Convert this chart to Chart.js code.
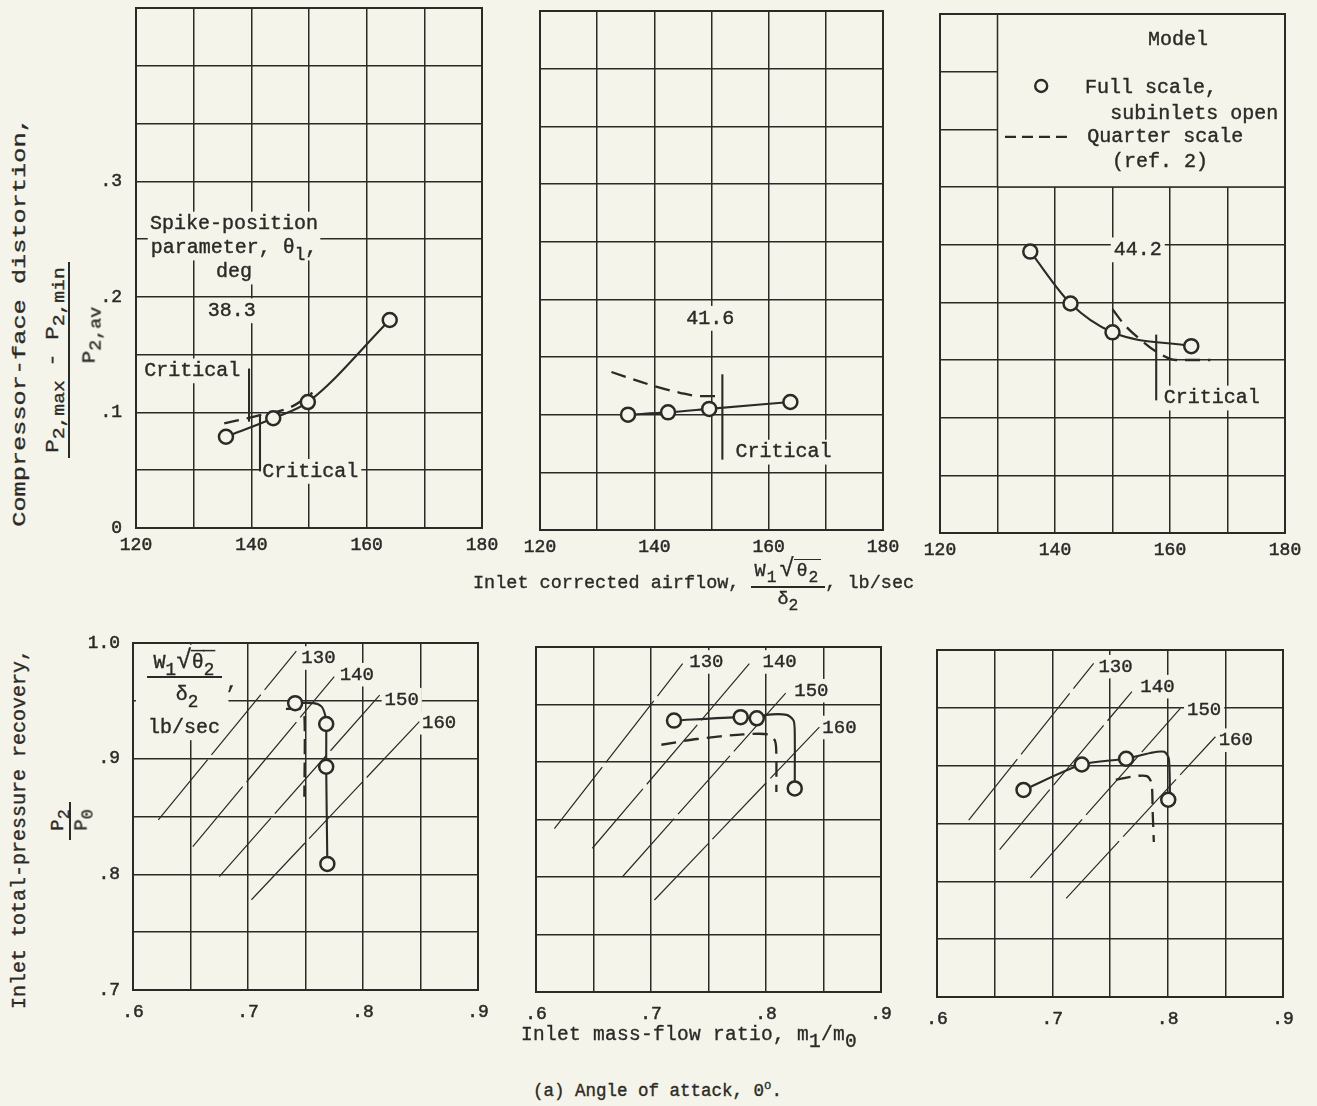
<!DOCTYPE html>
<html><head><meta charset="utf-8"><title>Compressor-face distortion and inlet recovery</title>
<script src="https://cdn.jsdelivr.net/npm/chart.js@4.4.1/dist/chart.umd.min.js"></script>
<style>
html,body{margin:0;padding:0;background:#f5f4ea;}
body{width:1317px;height:1106px;position:relative;overflow:hidden;font-family:"Liberation Mono","DejaVu Sans Mono",monospace;color:#2b2a27;}
#wrap canvas{position:absolute;}
.t{position:absolute;white-space:nowrap;line-height:1;z-index:5;-webkit-text-stroke:0.35px #2b2a27;}
.s{font-size:0.88em;position:relative;top:0.38em;}
.sf{position:relative;top:0.38em;}
.sup{font-size:0.7em;position:relative;top:-0.55em;}
.frac{display:inline-flex;flex-direction:column;align-items:center;}
.num{border-bottom:2px solid #2b2a27;padding:0 4px 4px 4px;letter-spacing:1px;}
.rad{font-size:1.35em;line-height:0.8;margin:0 -1px 0 2px;}
.den{padding-top:3px;}
.ov{border-top:1.6px solid #2b2a27;padding:1px 2px 0 2px;}
.bar{position:absolute;background:#2b2a27;z-index:5;}
</style></head>
<body>
<div id="wrap"></div>

<!-- top row axis titles -->
<div class="t" style="left:20px;top:322px;font-size:19px;transform:translate(-50%,-50%) rotate(-90deg) scaleX(1.33);">Compressor-face distortion,</div>
<div class="t" style="left:53px;top:360px;font-size:19px;transform:translate(-50%,-50%) rotate(-90deg) scaleX(1.18);">P<span class="s">2,max</span> - P<span class="s">2,min</span></div>
<div class="bar" style="left:68px;top:262px;width:2px;height:196px;"></div>
<div class="t" style="left:90px;top:335px;font-size:19px;transform:translate(-50%,-50%) rotate(-90deg) scaleX(1.1);">P<span class="s">2,av</span></div>

<div class="t" style="left:473px;top:560px;font-size:18.5px;display:flex;align-items:center;">
  <span>Inlet corrected airflow,&nbsp;</span>
  <span class="frac"><span class="num">W<span class="s">1</span><span class="rad">√</span><span class="ov">θ<span class="s">2</span></span></span><span class="den">δ<span class="s">2</span></span></span>
  <span>, lb/sec</span>
</div>

<!-- bottom row axis titles -->
<div class="t" style="left:20px;top:829px;font-size:20px;transform:translate(-50%,-50%) rotate(-90deg);">Inlet total-pressure recovery,</div>
<div class="t" style="left:58px;top:820px;font-size:19px;transform:translate(-50%,-50%) rotate(-90deg);">P<span class="s">2</span></div>
<div class="bar" style="left:69px;top:802px;width:2px;height:38px;"></div>
<div class="t" style="left:82px;top:820px;font-size:19px;transform:translate(-50%,-50%) rotate(-90deg);">P<span class="s">0</span></div>

<div class="t" style="left:521px;top:1026px;font-size:19.5px;letter-spacing:0.3px;">Inlet mass-flow ratio, m<span class="sf">1</span>/m<span class="sf">0</span></div>
<div class="t" style="left:533px;top:1083px;font-size:17.5px;">(a) Angle of attack, 0<span class="sup">o</span>.</div>

<script>
const INK = '#2b2a27';
const BG = '#f5f4ea';
const FONT = '"Liberation Mono","DejaVu Sans Mono",monospace';
Chart.defaults.font.family = FONT;
Chart.defaults.color = INK;

// ---------- axes: grid positions and tick labels ----------
const airflowGrid = [120, 130, 140, 150, 160, 170, 180];
const airflowLabelVals = [120, 140, 160, 180];
const airflowLabelText = ['120', '140', '160', '180'];
const distortionGrid = [0, 0.05, 0.10, 0.15, 0.20, 0.25, 0.30, 0.35, 0.40, 0.45];
const distortionLabelVals = [0, 0.1, 0.2, 0.3];
const distortionLabelText = ['0', '.1', '.2', '.3'];
const massFlowGrid = [0.60, 0.65, 0.70, 0.75, 0.80, 0.85, 0.90];
const massFlowLabelVals = [0.6, 0.7, 0.8, 0.9];
const massFlowLabelText = ['.6', '.7', '.8', '.9'];
const recoveryGrid = [0.70, 0.75, 0.80, 0.85, 0.90, 0.95, 1.00];
const recoveryLabelVals = [0.7, 0.8, 0.9, 1.0];
const recoveryLabelText = ['.7', '.8', '.9', '1.0'];

// ---------- spike-position parameter of each column ----------
const spikeParams = ['38.3', '41.6', '44.2'];

// ---------- top row: distortion vs corrected airflow ----------
const fullAirflowA = [135.6, 143.8, 149.8, 164.0];
const fullDistortionA = [0.079, 0.095, 0.109, 0.180];
const quarterAirflowA = [135.3, 141.0, 147.0, 150.6];
const quarterDistortionA = [0.0905, 0.097, 0.105, 0.117];
const criticalAirflowA = [139.6, 141.5];
const criticalLowA = [0.092, 0.049];
const criticalHighA = [0.138, 0.098];

const fullAirflowB = [135.4, 142.4, 149.6, 163.8];
const fullDistortionB = [0.100, 0.102, 0.105, 0.111];
const quarterAirflowB = [132.5, 139.2, 144.5, 148.0, 152.0];
const quarterDistortionB = [0.137, 0.126, 0.119, 0.116, 0.116];
const criticalAirflowB = [151.9];
const criticalLowB = [0.061];
const criticalHighB = [0.135];

const fullAirflowC = [135.7, 142.7, 150.0, 163.7];
const fullDistortionC = [0.244, 0.199, 0.174, 0.162];
const quarterAirflowC = [150.0, 152.0, 155.0, 158.0, 161.0, 167.0];
const quarterDistortionC = [0.194, 0.181, 0.167, 0.156, 0.150, 0.150];
const criticalAirflowC = [157.6];
const criticalLowC = [0.115];
const criticalHighC = [0.172];

// ---------- bottom row: recovery vs mass-flow ratio ----------
const fullMassA = [0.741, 0.768, 0.768, 0.769];
const fullRecoveryA = [0.948, 0.930, 0.893, 0.809];
const fairedMassA = [0.741, 0.757, 0.764, 0.767, 0.768, 0.768, 0.769];
const fairedRecoveryA = [0.948, 0.948, 0.945, 0.938, 0.930, 0.893, 0.809];
const quarterMassA = [0.733, 0.745, 0.749, 0.749];
const quarterRecoveryA = [0.943, 0.943, 0.938, 0.867];

const fullMassB = [0.720, 0.778, 0.792, 0.825];
const fullRecoveryB = [0.936, 0.939, 0.938, 0.877];
const fairedMassB = [0.720, 0.778, 0.792, 0.800, 0.818, 0.824, 0.825, 0.825];
const fairedRecoveryB = [0.936, 0.939, 0.938, 0.941, 0.941, 0.936, 0.925, 0.877];
const quarterMassB = [0.709, 0.740, 0.780, 0.802, 0.808, 0.809, 0.809];
const quarterRecoveryB = [0.915, 0.920, 0.924, 0.924, 0.918, 0.905, 0.874];

const fullMassC = [0.675, 0.7255, 0.764, 0.8005];
const fullRecoveryC = [0.879, 0.901, 0.906, 0.8705];
const fairedMassC = [0.675, 0.7255, 0.764, 0.785, 0.797, 0.801, 0.802];
const fairedRecoveryC = [0.879, 0.901, 0.906, 0.911, 0.912, 0.906, 0.876];
const quarterMassC = [0.755, 0.772, 0.782, 0.786, 0.787, 0.788];
const quarterRecoveryC = [0.888, 0.891, 0.891, 0.885, 0.860, 0.834];

// ---------- lines of constant corrected airflow (lb/sec) ----------
const airflowLineValues = ['130', '140', '150', '160'];
const lineStartMassA = [0.622, 0.652, 0.675, 0.703];
const lineStartRecA = [0.847, 0.824, 0.798, 0.778];
const lineEndMassA = [0.742, 0.775, 0.8145, 0.849];
const lineEndRecA = [0.993, 0.971, 0.955, 0.932];
const lineStartMassB = [0.616, 0.649, 0.675, 0.703];
const lineStartRecB = [0.842, 0.825, 0.800, 0.780];
const lineEndMassB = [0.7275, 0.7855, 0.819, 0.8464];
const lineEndRecB = [0.9855, 0.9855, 0.962, 0.9304];
const lineStartMassC = [0.6275, 0.6543, 0.681, 0.712];
const lineStartRecC = [0.853, 0.8275, 0.803, 0.7853];
const lineEndMassC = [0.7358, 0.769, 0.811, 0.8414];
const lineEndRecC = [0.9885, 0.964, 0.9495, 0.925];
const lineLabelMassA = [0.7464, 0.7797, 0.8188, 0.8513];
const lineLabelRecA = [0.987, 0.9726, 0.951, 0.931];
const lineLabelMassB = [0.7333, 0.797, 0.8246, 0.849];
const lineLabelRecB = [0.987, 0.987, 0.962, 0.930];
const lineLabelMassC = [0.740, 0.7763, 0.8168, 0.8442];
const lineLabelRecC = [0.9856, 0.9683, 0.948, 0.922];

// ---------- helpers ----------
const PAD = {l: 44, t: 14, r: 22, b: 34};
const pts = (xs, ys) => xs.map((x, i) => ({x: x, y: ys[i]}));
function circles(xs, ys) {
  return {data: pts(xs, ys), showLine: false, pointRadius: 7, pointHoverRadius: 7,
    pointBorderWidth: 2.5, pointBackgroundColor: BG, pointBorderColor: INK, order: 0};
}
function curve(xs, ys, mono, dash) {
  return {data: pts(xs, ys), showLine: true, borderColor: INK, borderWidth: dash ? 2.3 : 2.1,
    pointRadius: 0, tension: mono ? 0.4 : 0.25, cubicInterpolationMode: mono ? 'monotone' : 'default',
    borderDash: dash ? [15, 8] : [], fill: false, order: 2};
}
function seg(x0, y0, x1, y1, w, dash) {
  return {data: [{x: x0, y: y0}, {x: x1, y: y1}], showLine: true, borderColor: INK, borderWidth: w,
    pointRadius: 0, tension: 0, borderDash: dash || [], fill: false, order: 3};
}
function criticalSegs(xs, lows, highs) {
  return xs.map((x, i) => seg(x, lows[i], x, highs[i], 2.1));
}
function airflowLines(x0, y0, x1, y1) {
  return x0.map((x, i) => seg(x, y0[i], x1[i], y1[i], 1.2, [78, 6]));
}
function labeler(vals, texts) {
  return function (value) {
    for (let i = 0; i < vals.length; i++) if (Math.abs(vals[i] - value) < 1e-6) return texts[i];
    return '';
  };
}
function fontStr(size) { return size + 'px ' + FONT; }
function segSize(f, size) {
  if (f.indexOf('big') >= 0) return size * 1.3;
  return f.indexOf('sub') >= 0 ? size * 0.88 : size;
}
function richWidth(ctx, segs, size) {
  let w = 0;
  segs.forEach(s => { ctx.font = fontStr(segSize(s[1] || '', size)); w += ctx.measureText(s[0]).width; });
  return w;
}
function drawRich(ctx, segs, x, y, size, align, bg) {
  const w = richWidth(ctx, segs, size);
  let cx = align === 'center' ? x - w / 2 : (align === 'right' ? x - w : x);
  if (bg) { ctx.fillStyle = BG; ctx.fillRect(cx - 3, y - size * 0.62, w + 6, size * 1.24); }
  ctx.fillStyle = INK; ctx.strokeStyle = INK; ctx.textAlign = 'left'; ctx.textBaseline = 'middle';
  segs.forEach(s => {
    const f = s[1] || '';
    const sub = f.indexOf('sub') >= 0;
    const fs = segSize(f, size);
    ctx.font = fontStr(fs);
    const ty = y + (sub ? size * 0.36 : 0) + (f.indexOf('big') >= 0 ? -size * 0.08 : 0);
    ctx.lineWidth = 0.4;
    ctx.fillText(s[0], cx, ty);
    ctx.strokeText(s[0], cx, ty);
    const ww = ctx.measureText(s[0]).width;
    if (f.indexOf('over') >= 0) {
      ctx.lineWidth = 1.5; ctx.beginPath();
      ctx.moveTo(cx - 1, y - size * 0.62); ctx.lineTo(cx + ww + 1, y - size * 0.62); ctx.stroke();
    }
    cx += ww;
  });
}
function annoPlugin(spec) {
  return {
    id: 'anno',
    beforeDatasetsDraw(chart) {
      const ctx = chart.ctx, xs = chart.scales.x, ys = chart.scales.y, a = chart.chartArea;
      const X = v => xs.getPixelForValue(v), Y = v => ys.getPixelForValue(v);
      ctx.save();
      (spec.blanks || []).forEach(b => {
        ctx.fillStyle = BG;
        const x0 = X(b[0]), x1 = X(b[1]), y0 = Y(b[3]), y1 = Y(b[2]);
        ctx.fillRect(x0, y0, x1 - x0, y1 - y0);
      });
      ctx.strokeStyle = INK; ctx.lineWidth = 2;
      ctx.strokeRect(a.left, a.top, a.right - a.left, a.bottom - a.top);
      (spec.rules || []).forEach(r => {
        ctx.lineWidth = r[4] || 1.5; ctx.beginPath();
        ctx.moveTo(X(r[0]), Y(r[1])); ctx.lineTo(X(r[2]), Y(r[3])); ctx.stroke();
      });
      (spec.texts || []).forEach(t => {
        drawRich(ctx, t.segs, X(t.x), Y(t.y), t.size || 20, t.align || 'center', t.bg !== false);
      });
      if (spec.custom) spec.custom(ctx, X, Y);
      ctx.restore();
    }
  };
}
function panel(box, xAxis, yAxis, datasets, spec) {
  const W = box.R - box.L + PAD.l + PAD.r, H = box.B - box.T + PAD.t + PAD.b;
  const cv = document.createElement('canvas');
  cv.width = W; cv.height = H;
  cv.style.left = (box.L - PAD.l) + 'px'; cv.style.top = (box.T - PAD.t) + 'px';
  cv.style.width = W + 'px'; cv.style.height = H + 'px';
  document.getElementById('wrap').appendChild(cv);
  const grid = {color: INK, lineWidth: 1.5, drawTicks: false};
  const tickStyle = {font: {size: 18}, color: INK, textStrokeColor: INK, textStrokeWidth: 0.5};
  new Chart(cv.getContext('2d'), {
    type: 'line',
    data: {datasets: datasets},
    options: {
      responsive: false, animation: false, devicePixelRatio: 1, events: [],
      layout: {padding: {top: PAD.t, right: PAD.r, left: 0, bottom: 0}},
      plugins: {legend: {display: false}, tooltip: {enabled: false}},
      scales: {
        x: {type: 'linear', min: xAxis.grid[0], max: xAxis.grid[xAxis.grid.length - 1],
          afterBuildTicks: s => { s.ticks = xAxis.grid.map(v => ({value: v})); },
          ticks: Object.assign({callback: labeler(xAxis.vals, xAxis.text),
            padding: xAxis.pad, maxRotation: 0, minRotation: 0, autoSkip: false}, tickStyle),
          grid: grid, border: {display: true, color: INK, width: 2},
          afterFit: s => { s.height = PAD.b; s.paddingLeft = 0; s.paddingRight = 0; s.paddingTop = 0; s.paddingBottom = 0; }},
        y: {type: 'linear', min: yAxis.grid[0], max: yAxis.grid[yAxis.grid.length - 1],
          afterBuildTicks: s => { s.ticks = yAxis.grid.map(v => ({value: v})); },
          ticks: Object.assign({display: yAxis.show, callback: labeler(yAxis.vals, yAxis.text),
            padding: yAxis.pad, autoSkip: false}, tickStyle),
          grid: grid, border: {display: true, color: INK, width: 2},
          afterFit: s => { s.width = PAD.l; s.paddingTop = 0; s.paddingBottom = 0; s.paddingLeft = 0; s.paddingRight = 0; }}
      }
    },
    plugins: [annoPlugin(spec)]
  });
}

const airX = {grid: airflowGrid, vals: airflowLabelVals, text: airflowLabelText, pad: 6};
const distY = show => ({grid: distortionGrid, vals: distortionLabelVals, text: distortionLabelText, pad: 14, show: show});
const massX = {grid: massFlowGrid, vals: massFlowLabelVals, text: massFlowLabelText, pad: 11};
const recY = show => ({grid: recoveryGrid, vals: recoveryLabelVals, text: recoveryLabelText, pad: 13, show: show});

// ---------- top row ----------
panel({L: 136, T: 8, R: 482, B: 528}, airX, distY(true),
  [circles(fullAirflowA, fullDistortionA), curve(fullAirflowA, fullDistortionA, true),
   curve(quarterAirflowA, quarterDistortionA, true, true)]
   .concat(criticalSegs(criticalAirflowA, criticalLowA, criticalHighA)),
  {texts: [
    {x: 137.0, y: 0.263, segs: [['Spike-position']]},
    {x: 137.0, y: 0.2423, segs: [['parameter, θ'], ['l', 'sub'], [',']]},
    {x: 137.0, y: 0.2215, segs: [['deg']]},
    {x: 136.6, y: 0.188, segs: [[spikeParams[0]]]},
    {x: 138.1, y: 0.136, segs: [['Critical']], align: 'right'},
    {x: 141.9, y: 0.049, segs: [['Critical']], align: 'left'}
  ]});

panel({L: 540, T: 11, R: 883, B: 530}, airX, distY(false),
  [circles(fullAirflowB, fullDistortionB), curve(fullAirflowB, fullDistortionB, true),
   curve(quarterAirflowB, quarterDistortionB, true, true)]
   .concat(criticalSegs(criticalAirflowB, criticalLowB, criticalHighB)),
  {texts: [
    {x: 149.8, y: 0.1835, segs: [[spikeParams[1]]]},
    {x: 154.2, y: 0.0675, segs: [['Critical']], align: 'left'}
  ]});

panel({L: 940, T: 14, R: 1285, B: 533}, airX, distY(false),
  [circles(fullAirflowC, fullDistortionC), curve(fullAirflowC, fullDistortionC, true),
   curve(quarterAirflowC, quarterDistortionC, true, true)]
   .concat(criticalSegs(criticalAirflowC, criticalLowC, criticalHighC)),
  {blanks: [[130, 180, 0.30, 0.45]],
   rules: [[130, 0.30, 130, 0.45, 1.5], [130, 0.30, 180, 0.30, 1.5]],
   texts: [
    {x: 154.4, y: 0.2455, segs: [[spikeParams[2]]]},
    {x: 158.9, y: 0.117, segs: [['Critical']], align: 'left'},
    {x: 161.4, y: 0.4275, segs: [['Model']], bg: false},
    {x: 145.2, y: 0.3858, segs: [['Full scale,']], align: 'left', bg: false},
    {x: 149.6, y: 0.3633, segs: [['subinlets open']], align: 'left', bg: false},
    {x: 145.6, y: 0.3434, segs: [['Quarter scale']], align: 'left', bg: false},
    {x: 149.9, y: 0.3217, segs: [['(ref. 2)']], align: 'left', bg: false}
   ],
   custom: (ctx, X, Y) => {
     ctx.strokeStyle = INK; ctx.fillStyle = BG; ctx.lineWidth = 2.4;
     ctx.beginPath(); ctx.arc(X(137.6), Y(0.3876), 6, 0, Math.PI * 2); ctx.fill(); ctx.stroke();
     ctx.lineWidth = 2.2; ctx.setLineDash([11, 6]);
     ctx.beginPath(); ctx.moveTo(X(131.3), Y(0.3434)); ctx.lineTo(X(142.4), Y(0.3434)); ctx.stroke();
     ctx.setLineDash([]);
   }});

// ---------- bottom row ----------
function lineLabels(ms, rs) {
  return airflowLineValues.map((v, i) => ({x: ms[i], y: rs[i], segs: [[v]], align: 'left', size: 19}));
}
panel({L: 133, T: 643, R: 478, B: 990}, massX, recY(true),
  [circles(fullMassA, fullRecoveryA), curve(fairedMassA, fairedRecoveryA, false),
   curve(quarterMassA, quarterRecoveryA, false, true)]
   .concat(airflowLines(lineStartMassA, lineStartRecA, lineEndMassA, lineEndRecA)),
  {blanks: [[0.6025, 0.683, 0.916, 0.9985]],
   rules: [[0.6122, 0.9706, 0.6774, 0.9706, 2]],
   texts: lineLabels(lineLabelMassA, lineLabelRecA).concat([
     {x: 0.6443, y: 0.9827, segs: [['W'], ['1', 'sub'], ['√', 'big'], ['θ', 'over'], ['2', 'sub over']], bg: false},
     {x: 0.647, y: 0.955, segs: [['δ'], ['2', 'sub']], bg: false},
     {x: 0.6808, y: 0.9655, segs: [[',']], align: 'left', bg: false},
     {x: 0.6443, y: 0.9265, segs: [['lb/sec']], bg: false}
   ])});

panel({L: 536, T: 647, R: 881, B: 992}, massX, recY(false),
  [circles(fullMassB, fullRecoveryB), curve(fairedMassB, fairedRecoveryB, false),
   curve(quarterMassB, quarterRecoveryB, false, true)]
   .concat(airflowLines(lineStartMassB, lineStartRecB, lineEndMassB, lineEndRecB)),
  {texts: lineLabels(lineLabelMassB, lineLabelRecB)});

panel({L: 937, T: 650, R: 1283, B: 997}, massX, recY(false),
  [circles(fullMassC, fullRecoveryC), curve(fairedMassC, fairedRecoveryC, false),
   curve(quarterMassC, quarterRecoveryC, false, true)]
   .concat(airflowLines(lineStartMassC, lineStartRecC, lineEndMassC, lineEndRecC)),
  {texts: lineLabels(lineLabelMassC, lineLabelRecC)});
</script>
</body></html>
